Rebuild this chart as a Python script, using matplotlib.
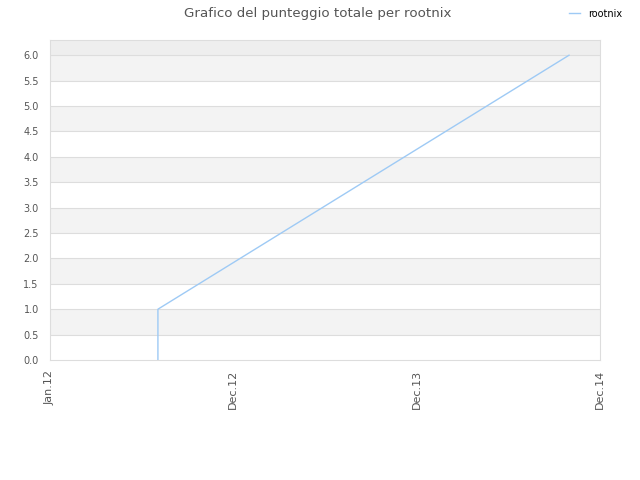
import matplotlib
matplotlib.use('Agg')
import matplotlib.pyplot as plt

# Series data (x in "tick units": 0=Jan.12, 1=Dec.12, 2=Dec.13, 3=Dec.14)
x_vals = [0.589, 0.589, 2.831]
y_vals = [0.0, 1.0, 6.0]
series_name = 'rootnix'

tick_pos = [0, 1, 2, 3]
tick_labels = ['Jan.12', 'Dec.12', 'Dec.13', 'Dec.14']
y_ticks = [i * 0.5 for i in range(13)]

fig = plt.figure(figsize=(6.4, 4.8), dpi=100)
ax = fig.add_axes([0.078, 0.25, 0.8595, 0.6667])

ymax = 6.3
ax.set_xlim(0, 3)
ax.set_ylim(0, ymax)

# alternating bands
for i in range(13):
    lo = i * 0.5
    hi = min(lo + 0.5, ymax)
    if i == 12:
        ax.axhspan(lo, hi, color='#eeeeee', lw=0, zorder=0)
    elif i % 2 == 1:
        ax.axhspan(lo, hi, color='#f3f3f3', lw=0, zorder=0)

for yt in y_ticks[1:]:
    ax.axhline(yt, color='#dddddd', lw=0.8, zorder=1)

ax.plot(x_vals, y_vals, color='#9ecaf5', lw=1.0, label=series_name, zorder=3)

ax.set_xticks(tick_pos)
ax.set_xticklabels(tick_labels, rotation=90, fontsize=8)
ax.set_yticks(y_ticks)
ax.set_yticklabels(['%.1f' % v for v in y_ticks], fontsize=7)
ax.tick_params(axis='both', length=0, colors='#555555')
ax.tick_params(axis='y', pad=8)
ax.tick_params(axis='x', pad=7)

for s in ax.spines.values():
    s.set_color('#dddddd')
    s.set_linewidth(0.8)

fig.text(0.497, 0.986, 'Grafico del punteggio totale per rootnix', ha='center', va='top',
         fontsize=9.6, color='#555555')

leg = fig.legend(loc='upper right', bbox_to_anchor=(0.986, 1.0), frameon=False,
                 fontsize=7, handlelength=1.2, handletextpad=0.8)

fig.savefig('out.png', dpi=100)
